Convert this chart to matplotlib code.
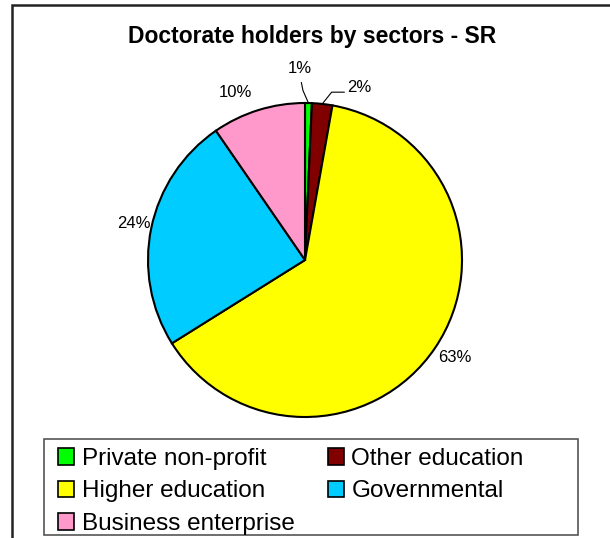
import numpy as np
import matplotlib.pyplot as plt
from matplotlib.patches import Rectangle, Patch

plt.rcParams['font.family'] = ['Liberation Sans', 'DejaVu Sans']

# data (percent of doctorate holders)
sectors = ["Private non-profit", "Other education", "Higher education",
           "Governmental", "Business enterprise"]
shares = [0.7, 2.1, 63.3, 24.3, 9.6]
colors = ["#00ff00", "#800000", "#ffff00", "#00ccff", "#ff99cc"]

# where each percent label sits (pie units, radius = 1)
label_pos = [(-0.03, 1.22), (0.345, 1.10), (0.955, -0.62), (-1.09, 0.23), (-0.44, 1.07)]

W, H = 610, 538
fig = plt.figure(figsize=(W / 100, H / 100), dpi=100)

# outer frame of the chart area
fig.patches.append(Rectangle((12 / W, -0.1), 1.2, 1 - 5 / H + 0.1,
                             transform=fig.transFigure, fill=False,
                             edgecolor="#222222", linewidth=1.8))

cx, cy, r = 305, 260, 157
ax = fig.add_axes([(cx - r) / W, (H - cy - r) / H, 2 * r / W, 2 * r / H])
wedges, texts = ax.pie(shares, colors=colors, startangle=90, counterclock=False,
                       labels=[f"{s:.0f}%" for s in shares],
                       wedgeprops=dict(edgecolor="black", linewidth=1.5),
                       textprops=dict(fontsize=12))
ax.set_xlim(-1, 1)
ax.set_ylim(-1, 1)
ax.set_aspect("equal")

for t, (tx, ty) in zip(texts, label_pos):
    t.set_position((tx, ty))
    t.set_ha("center")
    t.set_va("center")

# leader lines for the two thin slices
for k, w in enumerate(wedges[:2]):
    mid = np.deg2rad((w.theta1 + w.theta2) / 2)
    x0, y0 = np.cos(mid), np.sin(mid)
    if k == 0:
        ax.plot([x0, x0 - 0.035, x0 - 0.045], [y0, y0 + 0.08, y0 + 0.13],
                color="black", lw=0.8, clip_on=False)
    else:
        ax.plot([x0, x0 + 0.06, x0 + 0.14], [y0, y0 + 0.075, y0 + 0.075],
                color="black", lw=0.8, clip_on=False)

fig.text(312 / W, 1 - 36 / H, "Doctorate holders by sectors - SR",
         ha="center", va="center", fontsize=16.5, fontweight="bold")

# legend box
fig.patches.append(Rectangle((44 / W, 1 - 535 / H), 534 / W, 96 / H,
                             transform=fig.transFigure, fill=False,
                             edgecolor="#555555", linewidth=1.2))
order = [0, 2, 4, 1, 3]
handles = [Patch(facecolor=colors[i], edgecolor="black", linewidth=1.2) for i in order]
fig.legend(handles, [sectors[i] for i in order], ncol=2, frameon=False,
           loc="upper left", bbox_to_anchor=(58 / W, 1 - 448 / H),
           fontsize=17.5, handlelength=0.67, handleheight=0.67,
           handletextpad=0.3, labelspacing=0.43, columnspacing=1.37,
           borderpad=0, borderaxespad=0)

fig.savefig("out.png", dpi=100)
